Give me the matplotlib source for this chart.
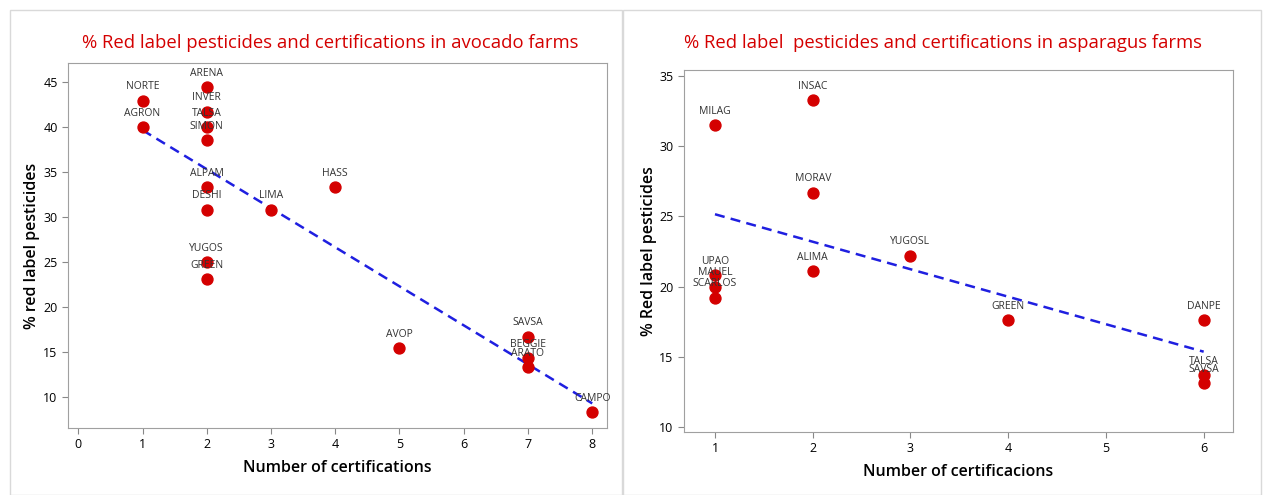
import numpy as np
import matplotlib
matplotlib.use('Agg')
import matplotlib.pyplot as plt
from matplotlib.patches import Rectangle

plt.rcParams['font.family'] = ['Open Sans', 'DejaVu Sans']

# Avocado farms
avo_names = ['NORTE', 'AGRON', 'ARENA', 'INVER', 'TALSA', 'SIMON', 'ALPAM', 'DESHI',
             'YUGOS', 'GREEN', 'LIMA', 'HASS', 'AVOP', 'SAVSA', 'BEGGIE', 'ARATO', 'CAMPO']
avo_cert = [1, 1, 2, 2, 2, 2, 2, 2, 2, 2, 3, 4, 5, 7, 7, 7, 8]
avo_red = [42.9, 40.0, 44.4, 41.7, 40.0, 38.5, 33.3, 30.8, 25.0, 23.1, 30.8, 33.3,
           15.4, 16.7, 14.3, 13.3, 8.3]

# Asparagus farms
asp_names = ['MILAG', 'UPAO', 'MAUEL', 'SCARLOS', 'INSAC', 'MORAV', 'ALIMA', 'YUGOSL',
             'GREEN', 'DANPE', 'TALSA', 'SAVSA']
asp_cert = [1, 1, 1, 1, 2, 2, 2, 3, 4, 6, 6, 6]
asp_red = [31.5, 20.8, 20.0, 19.2, 33.3, 26.7, 21.1, 22.2, 17.6, 17.6, 13.7, 13.1]

fig = plt.figure(figsize=(12.64, 4.95), dpi=100)

# panel frames
fig.patches.append(Rectangle((10/1264, 0), 612/1264, 485/495, transform=fig.transFigure,
                             fill=False, edgecolor='#d9d9d9', lw=1))
fig.patches.append(Rectangle((623/1264, 0), 638/1264, 485/495, transform=fig.transFigure,
                             fill=False, edgecolor='#d9d9d9', lw=1))


def panel(rect, x, y, names, xlim, ylim, xticks, yticks, title, xlabel, ylabel, tx):
    ax = fig.add_axes(rect)
    ax.scatter(x, y, s=62, color='#d40000', zorder=3)
    b, a = np.polyfit(x, y, 1)
    xs = np.array([min(x), max(x)])
    ax.plot(xs, a + b * xs, ls=(0, (4, 2.5)), color='#1f1fe0', lw=1.8, zorder=2)
    for n, xi, yi in zip(names, x, y):
        ax.annotate(n, (xi, yi), xytext=(0, 6), textcoords='offset points',
                    ha='center', va='bottom', fontsize=7.5, color='#333333')
    ax.set_xlim(xlim)
    ax.set_ylim(ylim)
    ax.set_xticks(xticks)
    ax.set_yticks(yticks)
    ax.tick_params(labelsize=9, length=4, color='#888888')
    for s in ax.spines.values():
        s.set_color('#a0a0a0')
    ax.set_xlabel(xlabel, fontsize=11.5, fontweight='semibold', labelpad=6)
    ax.set_ylabel(ylabel, fontsize=11.5, fontweight='semibold', labelpad=2)
    fig.text(tx, 1 - 43/495, title, ha='center', va='center', color='#d40000',
             fontsize=13.3)
    return ax


panel([68/1264, 1 - 428/495, 539/1264, 365/495], avo_cert, avo_red, avo_names,
      (-0.16, 8.23), (6.56, 47.1), range(0, 9), range(10, 46, 5),
      '% Red label pesticides and certifications in avocado farms',
      'Number of certifications', '% red label pesticides', 330/1264)

panel([684/1264, 1 - 432/495, 549/1264, 362/495], asp_cert, asp_red, asp_names,
      (0.683, 6.30), (9.64, 35.43), range(1, 7), range(10, 36, 5),
      '% Red label  pesticides and certifications in asparagus farms',
      'Number of certificacions', '% Red label pesticides', 943/1264)

fig.savefig('out.png', dpi=100)
